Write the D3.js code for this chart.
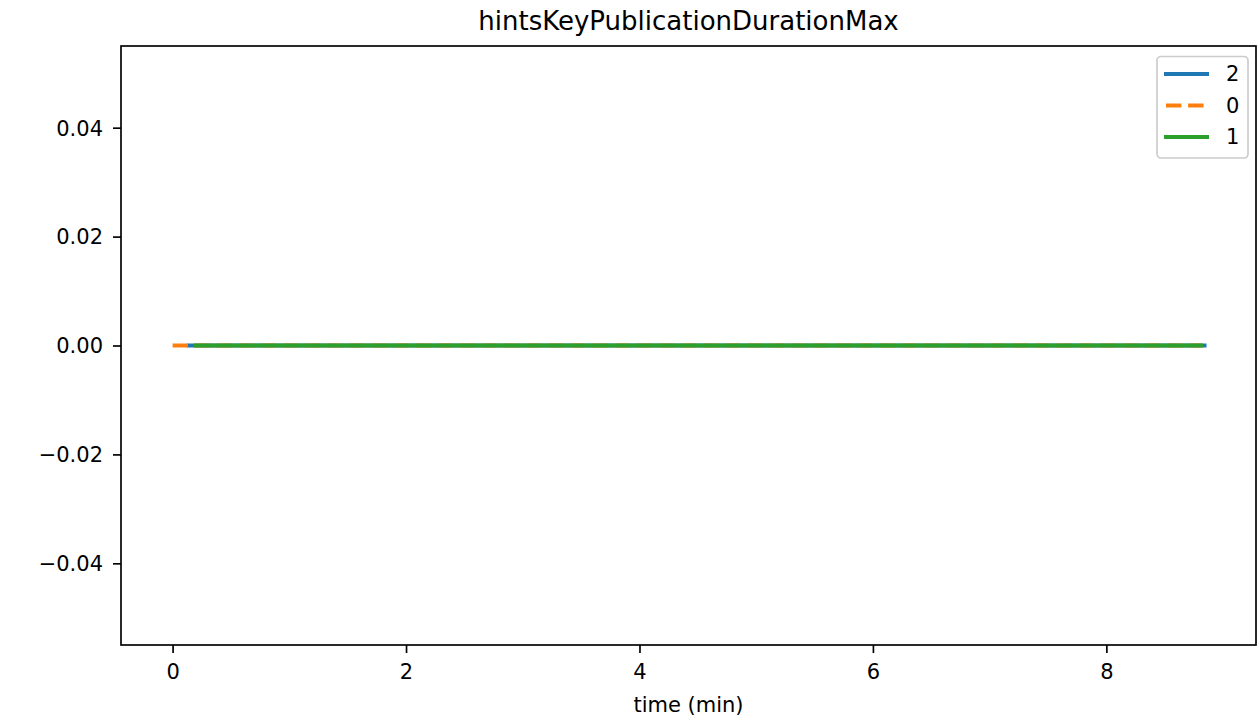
<!DOCTYPE html>
<html><head><meta charset="utf-8">
<script src="https://cdn.jsdelivr.net/npm/d3@7"></script>
<style>body{margin:0;background:#fff}svg{display:block;font-family:"DejaVu Sans",sans-serif}</style>
</head><body><svg id="c" width="1259" height="721"></svg>
<script>
const title = "hintsKeyPublicationDurationMax";
const xLabel = "time (min)";
const seriesNames = ["2", "0", "1"];
const seriesColors = ["#1f77b4", "#ff7f0e", "#2ca02c"];
const seriesDash = [null, "15.4,6.7", null];
const time2 = [0.14, 0.5, 1.0, 2.0, 3.0, 4.0, 5.0, 6.0, 7.0, 8.0, 8.84];
const value2 = [0, 0, 0, 0, 0, 0, 0, 0, 0, 0, 0];
const time0 = [0.0, 0.17, 1.0, 2.0, 3.0, 4.0, 5.0, 6.0, 7.0, 8.0, 8.81];
const value0 = [0, 0, 0, 0, 0, 0, 0, 0, 0, 0, 0];
const time1 = [0.2, 1.0, 2.0, 3.0, 4.0, 5.0, 6.0, 7.0, 8.0, 8.81];
const value1 = [0, 0, 0, 0, 0, 0, 0, 0, 0, 0];
const xTicks = [0, 2, 4, 6, 8];
const yTicks = [-0.04, -0.02, 0.00, 0.02, 0.04];

const seriesTimes = [time2, time0, time1];
const seriesValues = [value2, value0, value1];

const L = 121, R = 1256, T = 46, B = 645;
const svg = d3.select("#c");
const xMin = 0, xMax = 8.84, pad = (xMax - xMin) * 0.05;
const x = d3.scaleLinear().domain([xMin - pad, xMax + pad]).range([L, R]);
const y = d3.scaleLinear().domain([-0.055, 0.055]).range([B, T]);

// title
svg.append("text").attr("x", (L + R) / 2).attr("y", 30).attr("text-anchor", "middle")
  .attr("font-size", 26).text(title);

// lines
const line = d3.line().x(d => x(d[0])).y(d => y(d[1]));
seriesNames.forEach((n, i) => {
  const pts = seriesTimes[i].map((t, j) => [t, seriesValues[i][j]]);
  const p = svg.append("path").datum(pts).attr("d", line).attr("fill", "none")
    .attr("stroke", seriesColors[i]).attr("stroke-width", 4.2);
  if (seriesDash[i]) p.attr("stroke-dasharray", seriesDash[i]).attr("stroke-linecap", "butt");
  else p.attr("stroke-linecap", "square");
});

// axes
const xAxis = d3.axisBottom(x).tickValues(xTicks).tickSize(8).tickPadding(11).tickFormat(d3.format("d"));
const yAxis = d3.axisLeft(y).tickValues(yTicks).tickSize(8).tickPadding(10)
  .tickFormat(d => d3.format(".2f")(d).replace("-", "\u2212"));
const gx = svg.append("g").attr("transform", `translate(0,${B})`).call(xAxis);
const gy = svg.append("g").attr("transform", `translate(${L},0)`).call(yAxis);
[gx, gy].forEach(g => {
  g.select(".domain").remove();
  g.selectAll(".tick line").attr("stroke", "#000").attr("stroke-width", 1.67);
  g.selectAll(".tick text").attr("font-size", 21).attr("font-family", "DejaVu Sans").attr("fill", "#000");
});
gy.selectAll(".tick text").attr("dy", "0.35em");

svg.append("rect").attr("x", L).attr("y", T).attr("width", R - L).attr("height", B - T)
  .attr("fill", "none").attr("stroke", "#000").attr("stroke-width", 1.67);

svg.append("text").attr("x", (L + R) / 2).attr("y", 712).attr("text-anchor", "middle")
  .attr("font-size", 21).text(xLabel);

// legend
const lg = svg.append("g");
lg.append("rect").attr("x", 1157).attr("y", 56.5).attr("width", 91).attr("height", 101.5)
  .attr("rx", 4).attr("fill", "#fff").attr("fill-opacity", 0.8)
  .attr("stroke", "#cccccc").attr("stroke-width", 1.67);
seriesNames.forEach((n, i) => {
  const yy = 74 + i * 31.5;
  const l = lg.append("line").attr("x1", 1164).attr("x2", 1209).attr("y1", yy).attr("y2", yy)
    .attr("stroke", seriesColors[i]).attr("stroke-width", 4.2);
  if (seriesDash[i]) l.attr("stroke-dasharray", seriesDash[i]).attr("x1", 1166);
  lg.append("text").attr("x", 1226).attr("y", yy).attr("dy", "0.35em").attr("font-size", 21).text(n);
});
</script></body></html>
